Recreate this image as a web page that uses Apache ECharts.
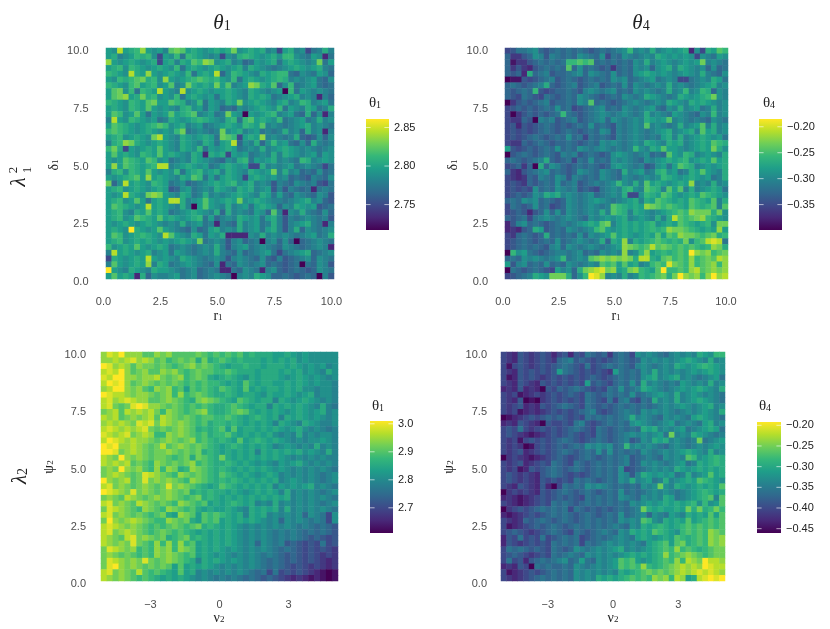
<!DOCTYPE html>
<html><head><meta charset="utf-8">
<script src="https://cdn.jsdelivr.net/npm/echarts@6/dist/echarts.min.js"></script>
<style>html,body{margin:0;padding:0;background:#fff}#c{width:830px;height:629px}</style></head>
<body><div id="c"></div>
<script>
// Colour level along the viridis scale, one string per row, top row first.
// 0-9 are whole levels; a-i are half levels (a = 0.5, b = 1.5 ... i = 8.5).
const theta1_r1_delta1 = [
"5e85f6h5e5 4g7g5f5e5f 5f7e5f5f4e 25f4e2d4f4",
"5f4e56f6e2 5e6d6f5e4e 2e4f6f5e5f e66e4d5e1d",
"h5e5f5e5f2 5f4f5g6h7e 5f4e3d5e5f d5f5e4e7d5",
"5f6e6f5e5f 5e6d5f5e5f 5e5f4f5e4d 4e5f5e5f4d",
"6f5e8f5h5e 5f5e6d5f58 3e6f5e4f5f 66d3e4d5e3",
"5e6f6g7f6e h5e5f6g6f6 5e6d5f5e5f 6f4e4e5d3e",
"6f5e6g5f6e 5g4e7f5f57 5g4e5h7f5g 3e6d4e5d3d",
"5g7e6d6f58 5e48e5f5e5 5f5e4f5e4e 506d5e4e4d",
"5g7h5f7f6e 5e6d5f5e5d 5f5e4f5f5d 4e5f4e4143",
"6f5e6f5g75 5g6f4e6d5e 4f57e5f5e4 5f4e6f4e5d",
"5f5e6f5g5e 5e4f6e5d5e 3d3e4e5f5e 6d5e4f5d4f",
"5g6e5g5d5e 5g5f6g4e5d 475e05e5f6 4e5d3f3e14",
"485e6f5e5d 4f5e5f6f5e 4f6d6g5f5e 6d4e5d4f4e",
"5g6f5e5f6g 6e5f4e5d4e 5f5e6f5g4e 4d4e5f4e4d",
"6g6f5e5f5e 5e67d4e4d4 7e5f4e5d4d 4f4e3f4e14",
"5f6e5f5e78 5e4f5e5f5d 7g625f5h4e 4d4f3c3e3e",
"4f6h7f5e5f 5e4f5e4f5d 5f83e4f3e6 e5d3e3f4d4",
"67f25e5f5g 5e4f5e6d5e 5f5d4e4f4e 5f5e4e4d4e",
"5g5f5e6f5g 5f5e4f51f5 f25e5d4e4f 4f5e4e5d5e",
"5e5g6f5g6e 5d4e4f5e4d 3e4f6d5e5f 4e4d6f4e5e",
"5h5g6f5f68 84e5f5e5d4 5f5e522f4e 4e5d4e4d2d",
"4f6e6f5g5e 5e6d5f6e5f 4f5e4f5e57 4f4e3d3e3d",
"5e5f6g5h5f 5e4f5g6d5d 5f5e25f5e5 4e3d3c4d3e",
"73e85f5e6f 5d4e3d4e5f 5f6e5f4e4c 4d3e4d4c2d",
"5f6e5f5e5f 5c3e5d4e4f 5e4f5f4e5c 4c4d3d1d4d",
"5e58f5e7h7 5e4f5d4f4e 4e5f5e4f5d 5d3e4d3e4c",
"5f6e5g5d5f 588f4e5g5e 5f57e5f5e4 4d4e5f4e3c",
"5g6f5e585f 5e4f405g5e 4f4e5d5f5e 3e4f5e5c3d",
"5f6e4f5g5f 5d4e5f5e4f 3f4e4d5e3g 41e4f4d3e3",
"5f6e5g6f5g 5f5e5f6d53 4e4f5e5d5f 4c4d4e4d4c",
"5e5f5e5f5e 4e4f4e5d41 4d3f4e5d4f 4c4e5f4d14",
"5f5e9f5e5g 5e4d3e3d5f 4e4f4e5d5f 4c4f3e4d4e",
"5g6e5f6f5e 8g5e4f5d5e f1111e4f4e 4e4d4e5d4f",
"5f6e5f5f5e 5e5f5e7d4e 4c4e3d404e 3e303d4e4d",
"6e5f5g5e5f 5d4e4d4e4f 4c4e5d4e4d 3e4d3d4e41",
"485f5e5f4e 5d5e4d4e4f 4d3e3d4e5d 2d4e5f3d4e",
"2f5e5f585e 5e4f5e4d4e 4c4e4d3e3c 4c3d4e3e4d",
"4g5e5f5h4f 5d4e5e4d3e 1d3e4d4e3d 3c3d0d3e4c",
"95e4f5e4f5 5e4d4e3d4d 11d3e4d14e 3c3d3c3e4d",
"5g5f51f3e4 4e5d4e3d4e 4d04e4f5e3 3d3c3d304c"];
const theta4_r1_delta1 = [
"2cdd4e3c3d 3d3d3c3d3d 4e64e4f4e5 e5f1e2f5g6",
"3bbc3e4c4d 3d3e4d3e2d 3e4d4e4f5e 5e5e2e4d5e",
"3abbc3d3d3 d66g6g3d3d 3d3e4f4e5e 4e5e574e4d",
"3bcb1c3d3d 3g3e3d3c3b 3d3e4e3e5f 4f5e4e3e3d",
"3c31f3d4c3 3d4e3e4d3e 3d3e5f5e5e 4e5e4f4d3e",
"0aac2c3d4c 3d3c3d3d3e 4e3d4e5d4e 422d4e4f5d",
"3d3c3d4f3c 3d4c3d4c3d 3e3e4d4e4f 4e4d4e5f4e",
"3c3d36c2c3 3d3c4e4d4e 3d3e4e4d4f 4e64e6f3e4",
"3c2d3c2d3c 3d3e4d3c3d 3e4d4f5e4d 4f5e5f67e4",
"0bc3c3d4c3 3d3e4g3d3c 3d4e4d4e4f 5e4f5f5e4e",
"2c3c3c3d3e 3d2c3d4e3d 3e4d4e5d3e 4f4e5d4f4e",
"20bc3c3c3d 6d3c3d4e4d 4e4d4f4e4d 5e4d3e464e",
"2bb3c04d4c 3d4c3d4e3e 4d4e4f5e5g 4e4d4d3e4d",
"2c1c2c3d3c 3c3d3e3d3c 4d4e4g4e4d 4f4e5g4f4e",
"2c2c2c3d3c 3d3c3d3e4c 4d4e4d4e5f 4e5f4g5f4e",
"2c2c3d3c3d 3e3d2d3d3c 4d4e4d4d5f 4f4e5f5e5d",
"2bb3c3d3c3 3d3c3d3e4e 4d4e4f5e4f 5f4e5f5g6f",
"5c2c3c3d3e 3d3e4d4e4d 4d46e4f5g5 5e4e5f57fe",
"0c3d3c3d3c 4d4c3d3c3e 5e4d4e3d3g 5e6f4e5e4f",
"3d3c3d4f3c 3d2d3e3d3e 4e4d3e4e5f 5f6e5f5g5f",
"2c3b30f3e4 3c3d3d3c3e 5e4d4c3e5d 5g6f4e5e5f",
"3b1c3d4e3d 3c3e4d3e4d 3f4e5d4f6e 5d4f5g5e4f",
"2b1b3c4d3e 4c4d3d3e4d 3e4d4e4e6f 5e5f5e5d4f",
"2c2b3c3d3e 3d4c3d4d4e 6e4f4g5f5e 5f5h4e4f4e",
"2c2c2e3d3e 4d4c3c2d4e 4f6e4g6f4g 5g4f4e5f5d",
"2c3c3e4f5f 4e4d4e3d4e 4f22e6f5g6 5e5f5g6f5e",
"3d3e4e3d3c 3e4d4e5e4d 4e5f4f5g6f 5f5g6f5g4f",
"2d3c3e3d2c 3e4d4e4d4g 6f5f5h7g6g 6f5g6f6g4g",
"2c3c1c3e3e 3e4d4e4f4g 6f4f5e4e5f 6g6h777f7e",
"3c3d2d4e4d 4e4d3e4e5e 5f4e5e4f4f 8g6g7h6f5e",
"1c4e3d3c3d 4d4e5f5g74 5f5f5f6e5f 5g6f5f6e77",
"1b1c3f5c3d 3e4d4e6g5e 5f5f5f6f6h 77g6f5f5h5",
"2b3d3c3f3d 3d3e3e4e5g 5f5e5f5g5g 6h77g6g7f6",
"2c3d3c3d3e 3d4e4d4f3f 5h4f5f6g6f 6f7e6g8i8d",
"2c3d3d3c4e 3e4d4e4d4e 5h7g6g8g7g 6g6g6f6h7f",
"06e5d3c3d4 4d4e3d3e4e 4h4e6h5f6f 6g69h7h6g7",
"3d3e4e4d4e 6d4e4g7h7h 7h7f88f5g7 6g6h6g7g8h",
"5c4e3d3e3d 3e4d4e4g6g 5g5f4e6g6i 7g6h6g7h6h",
"0d3c3d3c25 4e3f7h8i7h 5f7h6f5g96 6g6h8g7h7h",
"2c3d4f5e77 7f3e69ih4e 4f4e6f6g7f 79h7h6h9h8"];
const theta1_nu2_psi2 = [
"hi89hhhggh 7hgggg7g6g 6g6gf6fff5 5f5e5eeeee",
"hh8h8ih8hg 76g7g7f7f6 g6f6fff5f5 f5fe5eeeee",
"9ih8hgh77g 7g6g7hg7g6 f5ff6ff5ff f5f5e5e54e",
"8i89hg7hgg h7hg6g7gg6 6g6fff5fff 5f5fe5e4fe",
"i899hh7hh8 7g7h6g7gf5 f6f5ef5fff 5e5f5e5e4e",
"89i9hg7h7g 7g7g6g6g66 f5f5gf5ff5 5f5f5e5ee4",
"h899h7hg6h 7h6g5g6g6f g6f5g5f5ff 5f5fee4ee4",
"9i88h7hh7g 7h6h6g7g6f f6f5ff5ef5 5f5e5f4ee4",
"8ih8i8hhgg 7h7g6f7h7g 6f5g6f5ff4 f5e5f5e4e4",
"8i7g7i9ihh 7g7g6g6g6f f6g6f5ff4f 5f5f5e4f4d",
"7h8g8h8h87 6h7g6g7h6f f6g7gf5f5f 5e5f5e5f4e",
"8h8g7h7h8g 8h7g7g6gg6 6g6f5f6f5f 4f5f5e5e4e",
"h8h8h7i8i7 8h7h7g6gf6 6f6f5f5f54 f5e4f5e44e",
"8i8h8h8i7g 7g7h7gf6f6 g5g5ff5f5f 5e5fe4e4d4",
"i8h8i7h8h6 6h7h7g6gf6 6gf5f5f5fe 4e4f4e4ee4",
"89i8h8hh7g 7h7g7h6g6f 6f5g5f6f5f 5e4e4ee5e4",
"9i9hh8h7g7 8g7h7g7g6f 5f6f5f5f54 e5e4e4f4e4",
"99i7h8h7g7 7h7g7g7f6f 5f5f5f4f5f 5f5fe5e4f4",
"8h79h7h7g7 7g6g7f7g6f 7f5f5f5f5f 5e4e4e4e44",
"8h8h8g7g6h 7g7g7h6g6f f6f5f5e5e4 5e5fe4e4e4",
"7h79h7hg6h 6h7f6h7g6f 6f5f5f5f5e 5e4e4e4e4d",
"7h8h7g7i8h 7g6h7g7g6f g6f5f5e5f5 4e4e4e4d4e",
"9h7h8g7i7h 7h7g6h7g6f 6f6f5f5f5f 4e5e4e4d4e",
"8i7h7g7h7g 7i7h7g6f5f g6f5f5f5f4 5e5e5f4e4d",
"9i8h7i7h7g 7h7g7f6f6f f5f5e5f5f5 4f4e4e4d4e",
"7h7g8h7g7h 7h7g6g7f6f 5f5f5f5f5f 5f4e4e4e4d",
"8i7h7g8h7g 7g6h7g6g5f 5f6f5f4e4f 4e4e4e4d4e",
"7i8h7g6h7g 6h7g6gf5f5 5f5e4f5f5f 4f4e4e4e4d",
"8i7h7g7g6g 7f5h7g5g6g 6f5f4f5f4e 4e4e3e4d2e",
"79h7h8h7g6 6h7g7f5g6g 5f5f5f5e4e 3e4e4d4d2e",
"8i8h7h7g6g 6g7g6g7f6f 5f5e4e4e4e 4e4d4d3d3c",
"8i7h8h7g6g 7g6g6f5f5f 5f5e4e4e4d 4d4d3d3d3c",
"8h7g8i7h7g 7f6g7f6f5f 5f5e4e4e4d 4d4d3c3c2c",
"8h7h7i7g6h 6h6h6g5f5f 5f5e4e3e4d 4c3c2c2d2c",
"7i8h7h6g6h 7h6h7g5f5f 5e5e4e4e4d 3d3c2c2c2b",
"7h7g7g6g6h 7h7g6g5f5e 5e4e4e4d4d 3c3c2c2b2b",
"7i8h7h7i7g 7h7g6f4f5f 5e5e4e4d3d 3c3c2c2b1b",
"7i9h7h7g7g 7g5g5f5f5e 4e4e4e4d3d 3c2c2b2b1b",
"8i7h7g8g6g 6f5g5f4e4e 4e4e4d3d2d 2c2c2b1a0a",
"8h7h7g6g6f 5f5f5e4e4d 4d4d3d3c3c 2b1b1a1a0a"];
const theta4_nu2_psi2 = [
"2b1c2b2c21 2c1c2d3c3b 3d32e4e4d3 4e4e4f5e66",
"2b1c2b2c2b 3d4c3c2c2c 3d3c3e4e4e 4e5f5e4f4e",
"2a2c2b2c2c 3d3c2d2c3d 3d3c4e4d4e 4f5e5f6f5e",
"2b1c2c2c2c 5d3c2c2c2b 5d3d3e4f4e 4e4e5e5f5e",
"2a1c2c2b2c 2c2c2c3c2c 3d3d3e5f4e 5f4e4d4e5d",
"2b1c2b1c2c 2c2c25c3c2 3d3e3f4e4d 4d5e4e4f4e",
"1b1c1b10c2 3c3d3c2c2d 3e3d4f5e4d 4e5e5f5e4f",
"2b2a1b2b2c 2c3c2d3c3d 3d3e3d4e5e 4f4e5e4e4d",
"2b1c0a0b2c 2c2c2d3c2d 2d4c2d3f4e 4f4e5f5e4d",
"2b2c1b1c2c 3d3c2d3c3c 3d3d3d3d4e 4e5e4e5f4e",
"2b2a1b1b2c 2c2c3d4c2c 3d4d3e4e4e 4d4e4e5e4f",
"0a1b2c2c3c 3c2c2d3d3d 3d4f4e4d3e 4e4d5f5e4d",
"1b1c2b10c2 2c2d4c2c3d 3d3e5e4d4e 5d4e4d5f4e",
"2c2d2b2c2c 2c3d3c2d3c 3d3d3f5f4e 4e5d4e5f5d",
"2c2b1a1b2c 2c3c2c2d3c 3d4e4e4e5d 74e4f5e4d4",
"2b2a2c2c2c 3d3c2c3d3c 3d4c3e4f5f 4e4d47d4e5",
"2b2b0a2c2c 3c3d3e4e4e 3d64e4e4d3 4e4d4e4e5e",
"2b2c1b2c2c 3d3c3d3e3e 3d3d3e4d4e 4e5f5e4f4e",
"0b2b1a1b2c 3c2c3d3c3d 3d4c3d4d3e 4e4g6e5f6f",
"2b2c1b2c2d 3c2d3c3d3d 3d4c3e4e4d 4e5d4f5f6f",
"2b2a1c2c3d 3c3d3c3d3d 3e2c3d4e4e 4f5e5f5f5f",
"2c2b2b1c3d 3c2c2c3d3d 3e4c4f5e5e 5d4f4e5g5f",
"2c2b2b1c2c 2c2d3d3c3d 3e4f4e5d4f 4e5f5g6f5e",
"2b1c2b1c10 2d3d3e4e4d 3d3d3e4e7e 4f5e5f5f5g",
"0b2b2b1c2c 3d3c3d3c3d 3e3d3d4e4e 4d4e5f6f5f",
"1b1a1b2c2c 3c3c2d3d3d 3e4d3e4e4f 5d4e5f6g4g",
"2b1a1b2c2d 3d3c3d3d3d 3d3e4e5e5f 5f5f6e6e5g",
"0b2c2c3d3d 3d2d3c3c3c 3d3d47f5f5 5f57f7f676",
"1a1b2c2c3d 3d3c3d3c3d 3e3d4e3e4d 5e4f5f5g5g",
"2b1b3c3d3c 3d3c3d3d3d 3e4e4g6e4f 5f5g5f6g6g",
"2a1b2c3c3d 3c3d3d3d3d 4d3e4f5f6f 5f6g6g6g6g",
"2c3c2b2c3d 3c2d3c3d4d 3e4f5f5g6f 5e6g6g6h7g",
"1c2d2c2d2c 3d3d2c3d3d 4e4d5f5e5f 5g6f6g6h7h",
"1c2b2c2c2d 3d3d2d3d4e 4e4e4d5f6g 5g7f6g6h7h",
"2d3d3c3c2d 3c3e4d4e4e 5f4e4e5f6g 6h6g6f6g77",
"2c3c2b2c2d 3d4d3e4e4e 4e5f5f5f6h 6g7h7g6g77",
"2d2c1c3d3d 4e3d5d3e4e 5g6g5e5f6g 6h68h7988h",
"1b1c20d3d3 3d3e4d4e4e 5g6g6h6f6g 7h8h8h9i88",
"2a1b2c2c3d 3d3e4e4e4e 4f5f6g7g7g 7h8h8i8i8h",
"2b1b2c3d3d 3d3e4e4f5f 5f6g6g6h7h 68h5f8i9i9"];
// Colour-bar range and tick labels
const range_theta1_top = [2.717, 2.861];
const range_theta4_top = [-0.399, -0.185];
const range_theta1_bottom = [2.61, 3.01];
const range_theta4_bottom = [-0.4605, -0.192];
const ticks_theta1_top = [2.75, 2.80, 2.85];
const ticks_theta4_top = [-0.35, -0.30, -0.25, -0.20];
const ticks_theta1_bottom = [2.7, 2.8, 2.9, 3.0];
const ticks_theta4_bottom = [-0.45, -0.40, -0.35, -0.30, -0.25, -0.20];
const ticks_x_r = [0, 2.5, 5, 7.5, 10];
const ticks_x_nu = [-3, 0, 3];
const ticks_y = [0, 2.5, 5, 7.5, 10];

const viridis = ['#440154','#482878','#3e4989','#31688e','#26828e','#1f9e89','#35b779','#6ece58','#b5de2b','#fde725'];
const SERIF = '"Liberation Serif", serif', SANS = '"Liberation Sans", Arial, sans-serif';

const panels = [
 {rows:theta1_r1_delta1, range:range_theta1_top, ticks:ticks_theta1_top, dec:2, rect:[106,48,228,231], xr:[0,10], xt:ticks_x_r, lab:[-2.5,3], ym:15, bar:[366,119,23,111], title:['θ','1',375,103], xn:['r','1',218,316], yn:['δ','1',54,165], xm:14},
 {rows:theta4_r1_delta1, range:range_theta4_top, ticks:ticks_theta4_top, dec:2, rect:[505,48,223,231], xr:[0,10], xt:ticks_x_r, lab:[-2,3], ym:15, bar:[759,119,23,111], title:['θ','4',769,103], xn:['r','1',616,316], yn:['δ','1',453,165], xm:14},
 {rows:theta1_nu2_psi2, range:range_theta1_bottom, ticks:ticks_theta1_bottom, dec:1, rect:[101,352,237,229], xr:[-5.15,5.15], xt:ticks_x_nu, lab:[0,3], ym:15, bar:[370,421,23,112], title:['θ','1',378,406], xn:['ν','2',219,618], yn:['ψ','2',49,467], xm:15},
 {rows:theta4_nu2_psi2, range:range_theta4_bottom, ticks:ticks_theta4_bottom, dec:2, rect:[501,352,224,229], xr:[-5.15,5.15], xt:ticks_x_nu, lab:[0,3], ym:14, bar:[757,422,24,111], title:['θ','4',765,406], xn:['ν','2',613,618], yn:['ψ','2',449,467], xm:15}
];

const fmt = (v,d)=> (v<0?'\u2212':'') + Math.abs(v).toFixed(d);
const level = ch => /[0-9]/.test(ch) ? +ch : (ch.charCodeAt(0)-97)+0.5;
const grid=[], xAxis=[], yAxis=[], series=[], visualMap=[], graphic=[];
const cats = Array.from({length:40},(_,i)=>String(i));

function labelText(base, sub, x, y, size, rot, subSize, italic){
  graphic.push({type:'text', x, y, rotation:rot||0, silent:true, style:{
    text:`{b|${base}}{s|${sub}}`, align:'center', verticalAlign:'middle',
    rich:{b:{fontFamily:SERIF,fontSize:size,fill:'#222',fontStyle:italic?'italic':'normal'},
          s:{fontFamily:SERIF,fontSize:subSize||Math.round(size*0.68),fill:'#222',padding:[size*0.3,0,0,0]}}
  }});
}

panels.forEach((p,i)=>{
  const [l,t,w,h]=p.rect;
  grid.push({left:l,top:t,width:w,height:h,containLabel:false});
  xAxis.push({gridIndex:i,type:'category',data:cats,show:false,boundaryGap:true});
  yAxis.push({gridIndex:i,type:'category',data:cats,show:false,boundaryGap:true});
  const [lo,hi]=p.range, data=[];
  p.rows.forEach((row,r)=>{
    const s=row.replace(/ /g,'');
    for(let c=0;c<s.length;c++) data.push([c,39-r,+(lo+level(s[c])/9*(hi-lo)).toFixed(4)]);
  });
  series.push({type:'heatmap',xAxisIndex:i,yAxisIndex:i,data,progressive:0,animation:false,itemStyle:{borderWidth:0},emphasis:{disabled:true}});
  visualMap.push({type:'continuous',seriesIndex:i,min:lo,max:hi,inRange:{color:viridis},show:false,calculable:false});
});
panels.forEach((p,i)=>{
  const [l,t,w,h]=p.rect, k=i+4;
  grid.push({left:l+p.lab[0],top:t+p.lab[1],width:w,height:h,containLabel:false});
  const common={axisLine:{show:false},axisTick:{show:false},splitLine:{show:false}};
  xAxis.push({...common,gridIndex:k,type:'value',min:p.xr[0],max:p.xr[1],
    axisLabel:{margin:p.xm,color:'#4d4d4d',fontSize:11,fontFamily:SANS,showMinLabel:true,showMaxLabel:true,
      customValues:p.xt,formatter:v=>p.xr[0]<0?fmt(v,0):fmt(v,1)}});
  yAxis.push({...common,gridIndex:k,type:'value',min:0,max:10,
    axisLabel:{margin:p.ym,color:'#4d4d4d',fontSize:11,fontFamily:SANS,customValues:ticks_y,formatter:v=>fmt(v,1)}});
  series.push({type:'scatter',xAxisIndex:k,yAxisIndex:k,data:[],silent:true});

  // colour bar
  const [bx,by,bw,bh]=p.bar, [lo,hi]=p.range;
  const stops=viridis.slice().reverse().map((c,j)=>({offset:j/9,color:c}));
  graphic.push({type:'rect',silent:true,shape:{x:bx,y:by,width:bw,height:bh},
    style:{fill:{type:'linear',x:0,y:0,x2:0,y2:1,colorStops:stops}}});
  p.ticks.forEach(v=>{
    const y=by+(hi-v)/(hi-lo)*bh;
    [[bx,bx+4.6],[bx+bw-4.6,bx+bw]].forEach(([a,b])=>graphic.push({type:'line',silent:true,
      shape:{x1:a,y1:y,x2:b,y2:y},style:{stroke:'rgba(255,255,255,0.6)',lineWidth:1}}));
    graphic.push({type:'text',silent:true,x:bx+bw+5,y,style:{text:fmt(v,p.dec),fontFamily:SANS,fontSize:11,fill:'#222',align:'left',verticalAlign:'middle'}});
  });
  labelText(p.title[0],p.title[1],p.title[2],p.title[3],15,0,10,false);
  labelText(p.xn[0],p.xn[1],p.xn[2],p.xn[3],14,0,9,false);
  labelText(p.yn[0],p.yn[1],p.yn[2],p.yn[3],14,Math.PI/2,9,false);
});
// column and row headings
labelText('θ','1',222,23,21,0,14,true);
labelText('θ','4',641,23,21,0,14,true);
graphic.push({type:'text',silent:true,x:19,y:182,rotation:Math.PI/2,style:{text:'λ',fontFamily:SERIF,fontStyle:'italic',fontSize:21,fill:'#222',align:'center',verticalAlign:'middle'}});
graphic.push({type:'text',silent:true,x:14,y:170,rotation:Math.PI/2,style:{text:'2',fontFamily:SERIF,fontSize:13,fill:'#222',align:'center',verticalAlign:'middle'}});
graphic.push({type:'text',silent:true,x:28,y:170,rotation:Math.PI/2,style:{text:'1',fontFamily:SERIF,fontSize:13,fill:'#222',align:'center',verticalAlign:'middle'}});
labelText('λ','2',20,476,21,Math.PI/2,14,true);

const chart=echarts.init(document.getElementById('c'),null,{renderer:'canvas'});
chart.setOption({animation:false,backgroundColor:'#fff',grid,xAxis,yAxis,visualMap,series,graphic});
</script></body></html>
